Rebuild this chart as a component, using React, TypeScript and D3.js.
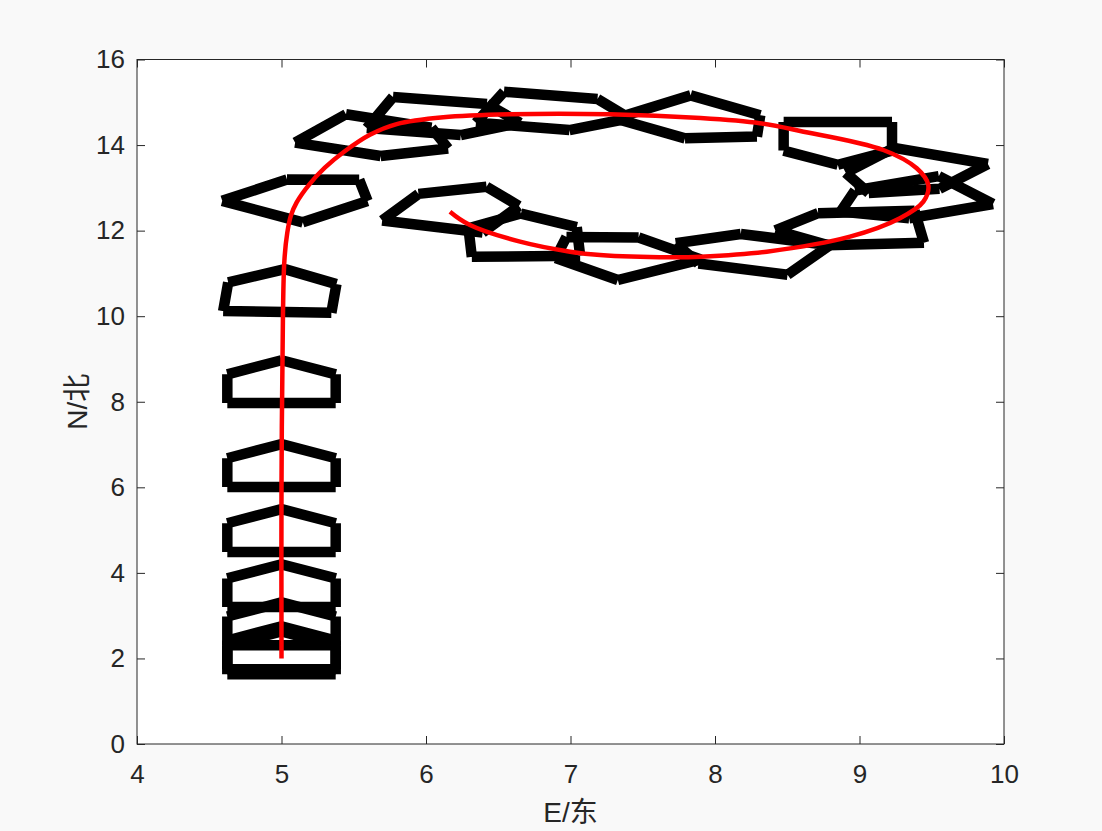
import React, { useRef, useEffect } from 'react';
import * as d3 from 'd3';

// red track of the ship, east / north
const trackE = [5.0, 5.0, 5.01, 5.02, 5.04, 5.065, 5.105, 5.19, 5.3, 5.44, 5.612, 5.797, 6.12, 6.58, 7.27, 7.9, 8.31, 8.59, 9.165, 9.396, 9.476, 9.442, 9.28, 8.934, 8.358, 7.9, 7.689, 7.204, 6.997, 6.651, 6.304, 6.166];
const trackN = [2.0, 6.0, 10.0, 11.3, 11.95, 12.35, 12.66, 13.07, 13.47, 13.86, 14.24, 14.49, 14.65, 14.72, 14.72, 14.63, 14.51, 14.33, 13.885, 13.457, 13.067, 12.677, 12.289, 11.858, 11.508, 11.39, 11.377, 11.43, 11.508, 11.742, 12.132, 12.443];

// ship outlines along the track: reference point and heading (deg, clockwise from north)
const shipE = [5.0, 5.0, 5.0, 5.0, 5.0, 5.0, 5.0, 4.99, 5.116, 5.597, 6.04, 6.8, 7.837, 8.85, 9.379, 9.416, 9.045, 8.308, 7.377, 6.679, 6.183];
const shipN = [2.0, 2.12, 2.68, 3.57, 4.86, 6.38, 8.34, 10.47, 12.72, 14.215, 14.67, 14.79, 14.635, 14.17, 13.425, 12.763, 12.06, 11.459, 11.37, 11.77, 12.44];
const shipHeading = [0, 0, 0, 0, 0, 0, 0, 3, 42, 118, 104, 105, 134, 180, 210, 240, 265, 293, 320, 358, 22];

// hull outline in ship frame: u to starboard, v forward
const hullU = [-0.375, 0.375, 0.375, 0, -0.375];
const hullV = [-0.37, -0.37, 0.3, 0.63, 0.3];

const xTicks = [4, 5, 6, 7, 8, 9, 10];
const yTicks = [0, 2, 4, 6, 8, 10, 12, 14, 16];

const App = () => {
  const svgRef = useRef<SVGSVGElement>(null);

  useEffect(() => {
    const width = 1102;
    const height = 831;
    const left = 137, right = 1004, top = 59.5, bottom = 744;
    const axisColor = '#262626';
    const font = '"Liberation Sans", Arial, Helvetica, sans-serif';

    const svg = d3.select(svgRef.current);
    svg.selectAll('*').remove();
    svg.attr('width', width).attr('height', height);

    svg.append('rect').attr('width', width).attr('height', height).attr('fill', '#f9f9f9');

    const x = d3.scaleLinear().domain([4, 10]).range([left, right]);
    const y = d3.scaleLinear().domain([0, 16]).range([bottom, top]);

    svg.append('rect')
      .attr('x', left).attr('y', top)
      .attr('width', right - left).attr('height', bottom - top)
      .attr('fill', 'white');

    // ships
    const shipPath = (i: number) => {
      const a = (shipHeading[i] * Math.PI) / 180;
      const c = Math.cos(a), s = Math.sin(a);
      const pts = hullU.map((u, k) => {
        const v = hullV[k];
        const e = shipE[i] + u * c + v * s;
        const n = shipN[i] - u * s + v * c;
        return [x(e), y(n)];
      });
      let d = '';
      for (let k = 0; k < pts.length; k++) {
        const p = pts[k], q = pts[(k + 1) % pts.length];
        d += `M${p[0]},${p[1]}L${q[0]},${q[1]}`;
      }
      return d;
    };

    svg.append('g')
      .selectAll('path')
      .data(d3.range(shipE.length))
      .enter()
      .append('path')
      .attr('d', (i) => shipPath(i))
      .attr('fill', 'none')
      .attr('stroke', 'black')
      .attr('stroke-width', 10.5)
      .attr('stroke-linecap', 'butt');

    // track
    const line = d3.line<number>()
      .x((i) => x(trackE[i]))
      .y((i) => y(trackN[i]))
      .curve(d3.curveCatmullRom.alpha(0.5));

    svg.append('path')
      .attr('d', line(d3.range(trackE.length)))
      .attr('fill', 'none')
      .attr('stroke', '#ff0000')
      .attr('stroke-width', 4.5);

    // axes
    const fmt = d3.format('d');
    const xAxis = d3.axisBottom(x).tickValues(xTicks).tickFormat(fmt).tickSize(-8).tickSizeOuter(0).tickPadding(21);
    const yAxis = d3.axisLeft(y).tickValues(yTicks).tickFormat(fmt).tickSize(-8).tickSizeOuter(0).tickPadding(12);

    const gx = svg.append('g').attr('transform', `translate(0,${bottom})`).call(xAxis);
    const gy = svg.append('g').attr('transform', `translate(${left},0)`).call(yAxis);
    svg.append('g').attr('transform', `translate(0,${top})`)
      .call(d3.axisTop(x).tickValues(xTicks).tickSize(-8).tickSizeOuter(0).tickFormat(() => ''));
    svg.append('g').attr('transform', `translate(${right},0)`)
      .call(d3.axisRight(y).tickValues(yTicks).tickSize(-8).tickSizeOuter(0).tickFormat(() => ''));

    svg.selectAll('.domain').remove();
    svg.selectAll('.tick line').attr('stroke', axisColor).attr('stroke-width', 1);
    [gx, gy].forEach((g) => g.selectAll('text')
      .attr('fill', axisColor)
      .style('font-family', font)
      .style('font-size', '26px'));

    svg.append('rect')
      .attr('x', left).attr('y', top)
      .attr('width', right - left).attr('height', bottom - top)
      .attr('fill', 'none')
      .attr('stroke', axisColor)
      .attr('stroke-width', 1);

    const labelFont = '"Liberation Sans", "Noto Sans CJK SC", sans-serif';
    svg.append('text')
      .attr('x', (left + right) / 2)
      .attr('y', 822)
      .attr('text-anchor', 'middle')
      .attr('fill', axisColor)
      .style('font-family', labelFont)
      .style('font-size', '28px')
      .text('E/东');

    svg.append('text')
      .attr('transform', `translate(87,${(top + bottom) / 2}) rotate(-90)`)
      .attr('text-anchor', 'middle')
      .attr('fill', axisColor)
      .style('font-family', labelFont)
      .style('font-size', '28px')
      .text('N/北');
  }, []);

  return (
    <div style={{ position: 'absolute', left: 0, top: 0 }}>
      <svg ref={svgRef} style={{ display: 'block' }}></svg>
    </div>
  );
};

export default App;
